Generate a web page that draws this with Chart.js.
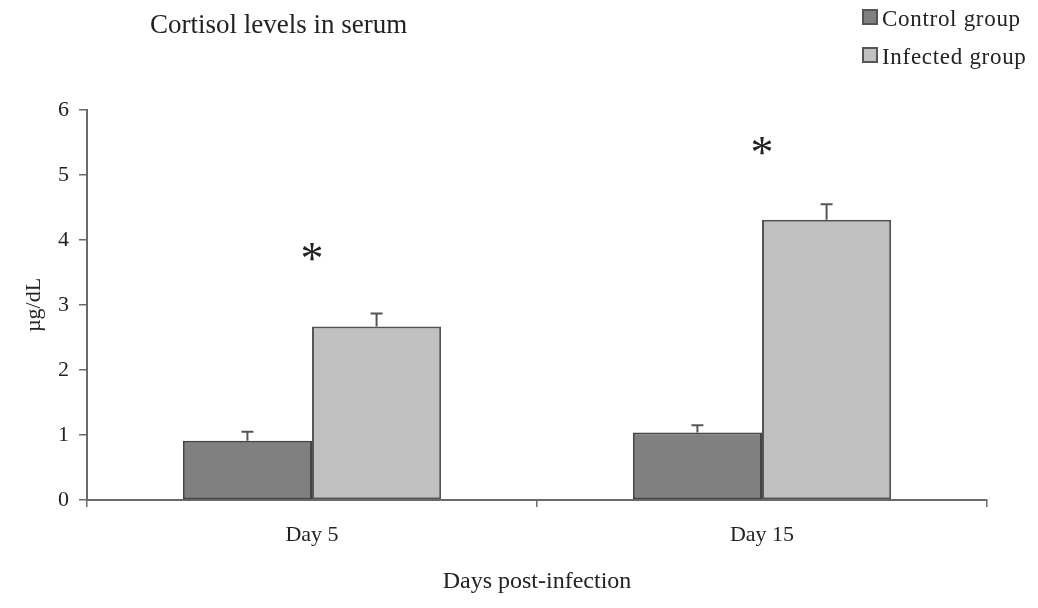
<!DOCTYPE html>
<html>
<head>
<meta charset="utf-8">
<script src="https://cdn.jsdelivr.net/npm/chart.js@4"></script>
<style>
  body { margin: 0; background: #fff; }
  #wrap { position: relative; width: 1038px; height: 608px; font-family: "Liberation Serif", serif; color: #222; }
  #title { position: absolute; left: 150px; top: 9px; font-size: 27px; white-space: nowrap; }
  .leg { position: absolute; left: 862px; font-size: 23px; letter-spacing: 0.7px; white-space: nowrap; }
  .leg span.sw { display: inline-block; width: 12px; height: 12px; border: 2px solid #555; margin-right: 4px; vertical-align: 1px; }
</style>
</head>
<body>
<div id="wrap">
  <canvas id="cortisolChart" width="1038" height="608"></canvas>
  <div id="title">Cortisol levels in serum</div>
  <div class="leg" style="top:6px"><span class="sw" style="background:#808080"></span>Control group</div>
  <div class="leg" style="top:44px"><span class="sw" style="background:#c0c0c0"></span>Infected group</div>
</div>
<script>
const days = ["Day 5", "Day 15"];
const controlMean = [0.91, 1.04];
const controlErr = [0.14, 0.11];
const infectedMean = [2.67, 4.31];
const infectedErr = [0.2, 0.24];
const starLevels = [3.82, 5.44];
const yTicks = [0, 1, 2, 3, 4, 5, 6];

const axisColor = "#6a6a6a";
const serif = "Liberation Serif";

// error bars, upper half only
const errorBars = {
  id: "errorBars",
  afterDatasetsDraw(chart) {
    const ctx = chart.ctx;
    const y = chart.scales.y;
    ctx.save();
    ctx.strokeStyle = "#555";
    ctx.lineWidth = 2;
    chart.data.datasets.forEach(function (ds, i) {
      const meta = chart.getDatasetMeta(i);
      meta.data.forEach(function (bar, j) {
        const top = y.getPixelForValue(ds.data[j] + ds.errors[j]);
        ctx.beginPath();
        ctx.moveTo(bar.x, bar.y);
        ctx.lineTo(bar.x, top);
        ctx.moveTo(bar.x - 6, top);
        ctx.lineTo(bar.x + 6, top);
        ctx.stroke();
      });
    });
    ctx.restore();
  },
};

// significance stars
const stars = {
  id: "stars",
  afterDatasetsDraw(chart) {
    const ctx = chart.ctx;
    ctx.save();
    ctx.font = "46px " + serif;
    ctx.fillStyle = "#222";
    ctx.textAlign = "center";
    ctx.textBaseline = "alphabetic";
    const m = ctx.measureText("*");
    const shift = (m.actualBoundingBoxAscent - m.actualBoundingBoxDescent) / 2;
    starLevels.forEach(function (v, i) {
      const x = chart.scales.x.getPixelForValue(i);
      const yy = chart.scales.y.getPixelForValue(v);
      ctx.fillText("*", x, yy + shift);
    });
    ctx.restore();
  },
};

const ctx = document.getElementById("cortisolChart").getContext("2d");
const cortisolChart = new Chart(ctx, {
  type: "bar",
  data: {
    labels: days,
    datasets: [
      {
        label: "Control group",
        data: controlMean,
        errors: controlErr,
        backgroundColor: "#808080",
        borderColor: "#444",
        borderWidth: 2,
        borderSkipped: false,
      },
      {
        label: "Infected group",
        data: infectedMean,
        errors: infectedErr,
        backgroundColor: "#c0c0c0",
        borderColor: "#555",
        borderWidth: 2,
        borderSkipped: false,
      },
    ],
  },
  options: {
    responsive: false,
    animation: false,
    devicePixelRatio: 1,
    layout: { padding: { left: 0, top: 110, right: 51, bottom: 0 } },
    categoryPercentage: 0.574,
    barPercentage: 1,
    plugins: {
      legend: { display: false },
      tooltip: { enabled: false },
    },
    scales: {
      x: {
        offset: true,
        grid: {
          offset: true,
          drawOnChartArea: false,
          drawTicks: true,
          tickLength: 7,
          color: axisColor,
          lineWidth: 1.5,
        },
        border: { color: axisColor, width: 2 },
        ticks: { color: "#222", font: { family: serif, size: 22 }, padding: 15 },
        title: {
          display: true,
          text: "Days post-infection",
          color: "#222",
          font: { family: serif, size: 24 },
          padding: { top: 0, bottom: 12 },
        },
        afterFit(scale) { scale.height = 108; },
      },
      y: {
        min: 0,
        max: 6,
        afterBuildTicks(scale) { scale.ticks = yTicks.map(function (v) { return { value: v }; }); },
        grid: {
          drawOnChartArea: false,
          drawTicks: true,
          tickLength: 8,
          color: axisColor,
          lineWidth: 1.5,
        },
        border: { color: axisColor, width: 2 },
        ticks: { color: "#222", font: { family: serif, size: 22 }, padding: 10 },
        title: {
          display: true,
          text: "µg/dL",
          color: "#222",
          font: { family: serif, size: 22 },
          padding: { top: 21, bottom: 0 },
        },
        afterFit(scale) { scale.width = 87; },
      },
    },
  },
  plugins: [errorBars, stars],
});
</script>
</body>
</html>
